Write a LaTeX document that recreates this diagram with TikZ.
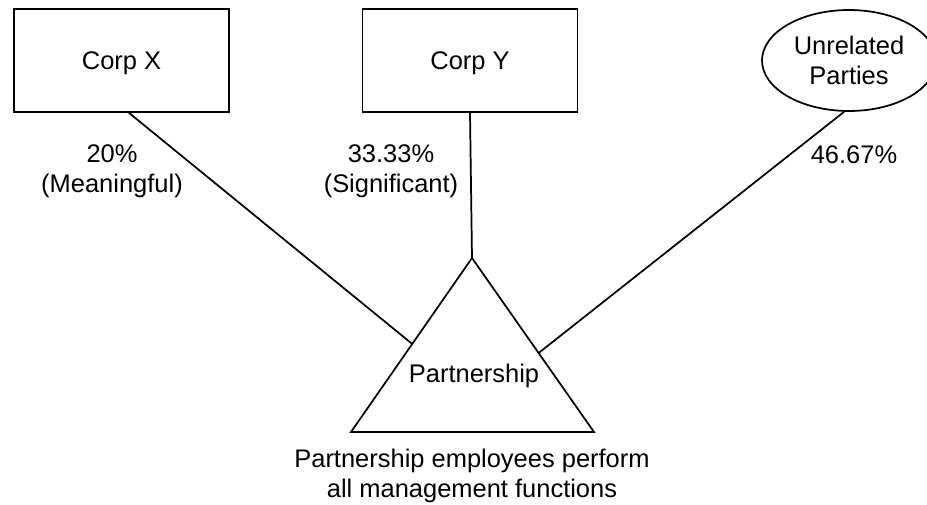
\documentclass[tikz,border=0pt]{standalone}
\usepackage{fontspec}
\setmainfont{Liberation Sans}
\usetikzlibrary{shapes.geometric,calc}
\begin{document}
\begin{tikzpicture}[x=0.75pt,y=-0.75pt,
  every node/.style={font=\fontsize{19.1}{22.2}\selectfont, align=center, inner sep=0pt},
  box/.style={draw, line width=1.3pt, minimum width=161.25pt, minimum height=77.25pt, text depth=0pt},
  oval/.style={draw, ellipse, line width=1.3pt, minimum width=130.5pt, minimum height=75.75pt},
  link/.style={line width=1.3pt}]
\useasboundingbox (0,0) rectangle (927,504);
% top entities
\node[box] (cx) at (121.5,60.5) {Corp X};
\node[box] (cy) at (470,60.5) {Corp Y};
\node[oval] (ur) at (849,60.5) {Unrelated\\Parties};
% partnership triangle
\coordinate (apex) at (472,258);
\coordinate (bl) at (351,432);
\coordinate (br) at (594,432);
\draw[link, line join=miter] (apex) -- (bl) -- (br) -- cycle;
\node (pn) at (474,376) {Partnership};
\coordinate (pl) at ($(apex)!0.494!(bl)$);
\coordinate (pr) at ($(apex)!0.546!(br)$);
% connectors
\draw[link] ([xshift=5.6pt]cx.south) -- (pl);
\draw[link] (cy.south) -- (apex);
\draw[link] ([xshift=-3.75pt]ur.south) -- (pr);
% labels
\node (lx) at (112,171.5) {20\%\\(Meaningful)};
\node (ly) at (391,171.5) {33.33\%\\(Significant)};
\node (lu) at (854,155) {46.67\%};
\node (note) at (472,476) {Partnership employees perform\\all management functions};
\end{tikzpicture}
\end{document}
